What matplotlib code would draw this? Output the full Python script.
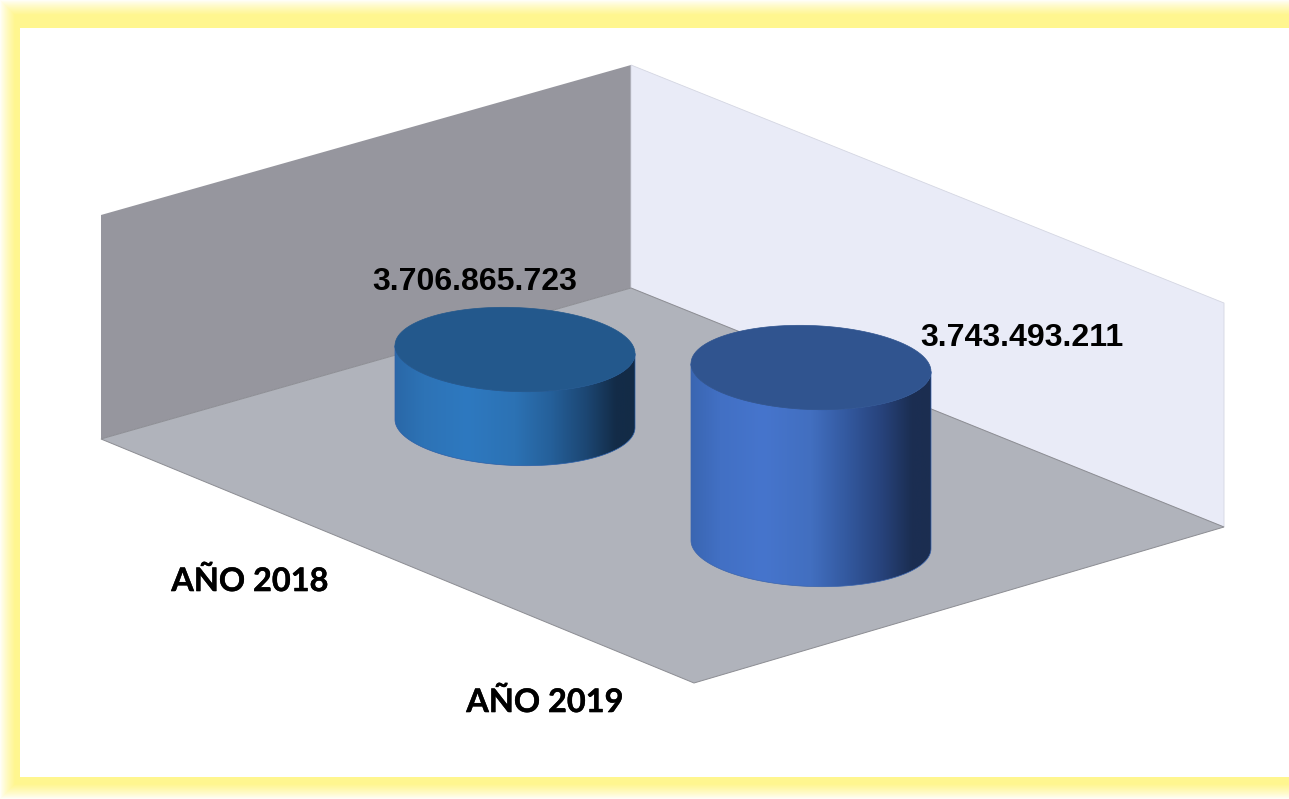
import numpy as np
import matplotlib
matplotlib.use("Agg")
import matplotlib.pyplot as plt
import matplotlib.patheffects as pe
from matplotlib.patches import Polygon, Rectangle
from matplotlib.colors import LinearSegmentedColormap

# ---- data ----
categories = ["AÑO 2018", "AÑO 2019"]
values = [3706865723, 3743493211]
value_labels = ["3.706.865.723", "3.743.493.211"]

# ---- layout ----
W, H = 1289, 799
BASE_VALUE = 3680550000.0
PX_PER_UNIT = 2.812e-6

floor = [(101, 439), (631, 288), (1224, 527), (694, 683)]
wall_l = [(101, 215), (631, 65), (631, 288), (101, 439)]
wall_r = [(631, 65), (1224, 303), (1224, 527), (631, 288)]

bases = [(515, 423.5), (811, 544.5)]
RX, RY, SHEAR = 120.0, 42.0, 4.0
cat_pos = [(250, 581), (545, 702)]
lab_pos = [(474.5, 282), (1022, 338)]

grad_stops = [
    [(0.0, "#2a68a8"), (0.12, "#2d73b6"), (0.3, "#2e79c0"), (0.5, "#2c72b4"),
     (0.65, "#25609a"), (0.8, "#1c4672"), (0.92, "#132c48"), (1.0, "#132b46")],
    [(0.0, "#3a66b2"), (0.12, "#4270c4"), (0.3, "#4675cd"), (0.5, "#426fc0"),
     (0.65, "#33599f"), (0.8, "#27427a"), (0.92, "#1b2e52"), (1.0, "#1b2d50")],
]
top_colors = ["#23588c", "#30548f"]
edge_colors = ["#2a5fa8", "#3a64ad"]

fig = plt.figure(figsize=(W / 100, H / 100), dpi=100)
ax = fig.add_axes([0, 0, 1, 1])
ax.set_axis_off()

# glow frame
yy, xx = np.mgrid[0:H, 0:W]
d = np.minimum(np.minimum(xx + 0.5, yy + 0.5), H - yy - 0.5)
t = np.clip(d / 15.0, 0, 1) ** 0.8
white = np.array([255, 255, 255.0])
yellow = np.array([255, 246, 143.0])
frame = (white + (yellow - white) * t[..., None]) / 255
ax.imshow(frame, extent=(0, W, H, 0), aspect="auto", zorder=0, interpolation="nearest")
ax.add_patch(Rectangle((20, 28), W - 20, 749, fc="white", ec="none", zorder=1))

# walls and floor
ax.add_patch(Polygon(wall_l, closed=True, fc="#96969e", ec="none", zorder=2))
ax.add_patch(Polygon(wall_r, closed=True, fc="#e9ebf7", ec="#d4d6e2", lw=0.6, zorder=2))
ax.add_patch(Polygon(floor, closed=True, fc="#b0b3bb", ec="#8c8d93", lw=0.7, zorder=3))


def ellipse_pts(cx, cy, t0, t1, n=120):
    tt = np.linspace(t0, t1, n)
    return cx + RX * np.cos(tt), cy + RY * np.sin(tt) + SHEAR * np.cos(tt)


# cylinders
for i, v in enumerate(values):
    cx, by = bases[i]
    h = (v - BASE_VALUE) * PX_PER_UNIT
    ty = by - h
    bx_, by_ = ellipse_pts(cx, by, 0, np.pi)
    tx_, ty_ = ellipse_pts(cx, ty, np.pi, 0)
    body = np.column_stack([np.r_[bx_, tx_], np.r_[by_, ty_]])
    ax.add_patch(Polygon(body, closed=True, fc="none", ec=edge_colors[i], lw=0.5, zorder=5))
    cmap = LinearSegmentedColormap.from_list(f"c{i}", grad_stops[i])
    grad = np.linspace(0, 1, 256)[None, :]
    im = ax.imshow(grad, cmap=cmap, aspect="auto", zorder=4,
                   extent=(cx - RX, cx + RX, by + RY + 8, ty - RY - 8))
    im.set_clip_path(Polygon(body, closed=True, transform=ax.transData))
    ex, ey = ellipse_pts(cx, ty, 0, 2 * np.pi)
    ax.add_patch(Polygon(np.column_stack([ex, ey]), closed=True,
                         fc=top_colors[i], ec=top_colors[i], lw=0.5, zorder=6))

# texts
for (x, y), s in zip(lab_pos, value_labels):
    ax.text(x, y, s, ha="center", va="center", fontsize=23.1, fontweight="bold",
            family="Liberation Sans", color="black", zorder=8)
for (x, y), s in zip(cat_pos, categories):
    ax.text(x, y, s, ha="center", va="center", fontsize=23.4, fontweight="bold",
            family="Lato", color="black", zorder=8,
            path_effects=[pe.withStroke(linewidth=0.3, foreground="black")])

ax.set_xlim(0, W)
ax.set_ylim(H, 0)
fig.savefig("out.png", dpi=100)
